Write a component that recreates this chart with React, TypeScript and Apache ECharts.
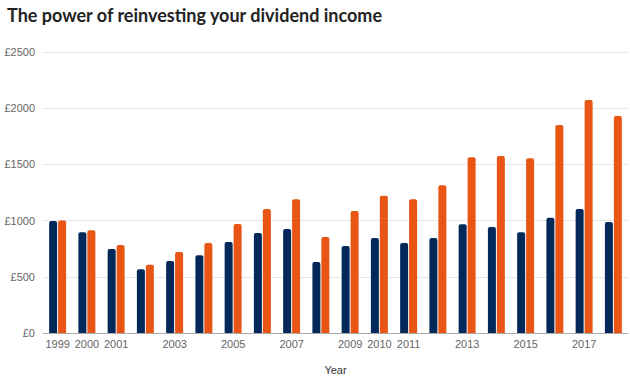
import React, { useEffect, useRef } from "react";
import * as echarts from "echarts";

const years = ["1999","2000","2001","2002","2003","2004","2005","2006","2007","2008","2009","2010","2011","2012","2013","2014","2015","2016","2017","2018"];
const shownYears = ["1999","2000","2001","2003","2005","2007","2009","2010","2011","2013","2015","2017"];
const notReinvested = [996, 896, 747, 567, 641, 691, 810, 890, 925, 632, 774, 845, 800, 845, 967, 943, 896, 1026, 1103, 988];
const reinvested = [1000, 914, 783, 608, 721, 801, 970, 1103, 1190, 854, 1085, 1220, 1190, 1314, 1563, 1575, 1554, 1851, 2073, 1931];
const yTicks = [0, 500, 1000, 1500, 2000, 2500];

export default function App() {
  const ref = useRef<HTMLDivElement>(null);
  useEffect(() => {
    if (!ref.current) return;
    const chart = echarts.init(ref.current, null, { renderer: "svg" });
    chart.setOption({
      animation: false,
      backgroundColor: "#ffffff",
      title: {
        text: "The power of reinvesting your dividend income",
        left: 2,
        top: 1,
        textStyle: { fontFamily: "Lato", fontSize: 18, fontWeight: "bold", color: "#222222" },
      },
      grid: { left: 43, right: 2, top: 52, bottom: 47 },
      xAxis: {
        type: "category",
        data: years,
        name: "Year",
        nameLocation: "middle",
        nameGap: 31,
        nameTextStyle: { fontFamily: "Liberation Sans", fontSize: 11, color: "#333333" },
        axisLine: { lineStyle: { color: "#aaaaaa" } },
        axisTick: { show: false },
        axisLabel: {
          interval: 0,
          margin: 5,
          fontFamily: "Liberation Sans",
          fontSize: 11,
          color: "#666666",
          formatter: (v: string) => (shownYears.includes(v) ? v : ""),
        },
      },
      yAxis: {
        type: "value",
        min: yTicks[0],
        max: yTicks[yTicks.length - 1],
        interval: 500,
        axisLine: { show: false },
        axisTick: { show: false },
        axisLabel: {
          margin: 8,
          fontFamily: "Liberation Sans",
          fontSize: 11,
          color: "#666666",
          formatter: (v: number) => "£" + v,
        },
        splitLine: { lineStyle: { color: "#e6e6e6" } },
      },
      series: [
        {
          name: "Not reinvested",
          type: "bar",
          data: notReinvested,
          barWidth: 8,
          barGap: "12%",
          itemStyle: { color: "#03295a", borderRadius: [2, 2, 0, 0] },
        },
        {
          name: "Reinvested",
          type: "bar",
          data: reinvested,
          barWidth: 8,
          itemStyle: { color: "#e95514", borderRadius: [2, 2, 0, 0] },
        },
      ],
    });
    return () => chart.dispose();
  }, []);
  return <div ref={ref} style={{ position: "fixed", left: 0, top: 0, width: 630, height: 380 }} />;
}
